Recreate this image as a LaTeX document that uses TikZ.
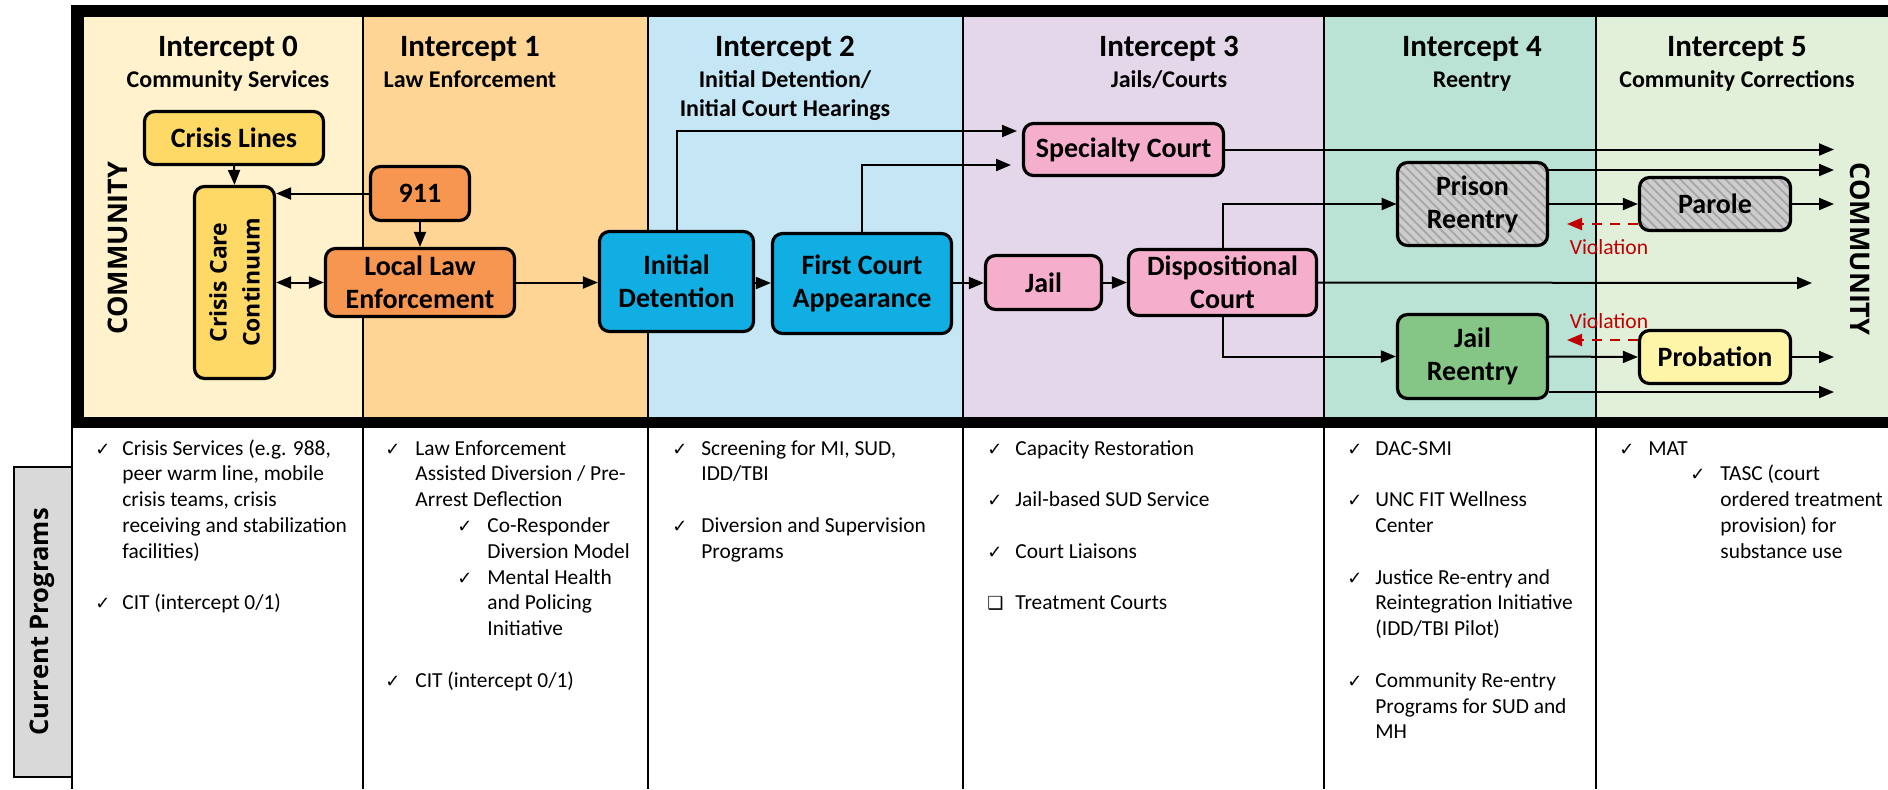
\documentclass[tikz,border=0pt]{standalone}
\usepackage{fontspec}
\setmainfont{Carlito}
\newfontfamily\osans{Open Sans}
\newfontfamily\djv{DejaVu Sans}
\usetikzlibrary{arrows.meta,patterns.meta}
\definecolor{c0}{HTML}{FFF2CC}
\definecolor{c1}{HTML}{FFD596}
\definecolor{c2}{HTML}{C5E6F5}
\definecolor{c3}{HTML}{E4D7EA}
\definecolor{c4}{HTML}{BAE2D5}
\definecolor{c5}{HTML}{E2F0DA}
\definecolor{gold}{HTML}{FFD966}
\definecolor{orng}{HTML}{F69651}
\definecolor{cyanb}{HTML}{10AEE2}
\definecolor{pinkb}{HTML}{F5AFCC}
\definecolor{greenb}{HTML}{85C686}
\definecolor{yelb}{HTML}{FFF5A8}
\definecolor{grayb}{HTML}{CDCDCD}
\definecolor{grayl}{HTML}{A6A6A6}
\definecolor{vred}{HTML}{C00000}
\definecolor{cpgray}{HTML}{D9D9D9}
\newcommand{\plines}[1]{\begin{tabular}[t]{@{}l@{}}#1\end{tabular}}
\tikzset{
  box/.style={draw, line width=1.6pt, rounded corners=5pt, inner sep=0pt, align=center,
    font=\bfseries\fontsize{14}{16.5}\selectfont},
  hatched/.style={preaction={fill=grayb}, pattern={Lines[angle=-45,distance=3.2pt,line width=0.9pt]}, pattern color=grayl},
  ttl/.style={anchor=base, inner sep=0pt, font=\bfseries\fontsize{15.5}{18}\selectfont},
  subttl/.style={anchor=base, inner sep=0pt, font=\bfseries\fontsize{12}{14.5}\selectfont},
  comm/.style={inner sep=0pt, font=\osans\bfseries\fontsize{13.5}{16}\selectfont},
  arr/.style={line width=1pt, -{Triangle[length=7.5pt,width=6pt]}},
  dblarr/.style={line width=1pt, {Triangle[length=7.5pt,width=6pt]}-{Triangle[length=7.5pt,width=6pt]}},
  viol/.style={line width=1pt, vred, dash pattern=on 5pt off 4pt, -{Triangle[length=7.5pt,width=6pt]}},
  violtxt/.style={anchor=base, inner sep=0pt, text=vred, font=\fontsize{10.8}{13}\selectfont},
  prog/.style={anchor=base west, inner sep=0pt, font=\fontsize{10.7}{12.9}\selectfont},
  chk/.style={anchor=base west, inner sep=0pt, font=\djv\fontsize{9}{10}\selectfont},
  divider/.style={line width=1pt, black},
}
\begin{document}
\begin{tikzpicture}[x=0.5pt,y=-0.5pt]
\useasboundingbox (0,0) rectangle (1888,789);
\fill[white] (0,0) rectangle (1888,789);
% column backgrounds
\fill[c0] (84,17) rectangle (363,417);
\fill[c1] (363,17) rectangle (648,417);
\fill[c2] (648,17) rectangle (963,417);
\fill[c3] (963,17) rectangle (1324,417);
\fill[c4] (1324,17) rectangle (1596,417);
\fill[c5] (1596,17) rectangle (1888,417);
% dividers
\foreach \xx in {363,648,963,1324,1596} \draw[divider] (\xx,17) -- (\xx,789);
\draw[divider] (71.5,428) -- (71.5,789);
% frame
\fill[black] (71,5) rectangle (1888,17);
\fill[black] (71,5) rectangle (84,428);
\fill[black] (71,417) rectangle (1888,428);
% current programs
\node[draw, line width=1pt, fill=cpgray, minimum width=155pt, minimum height=29pt, inner sep=0pt,
  rotate=90, font=\osans\bfseries\fontsize{12.8}{15}\selectfont] (cp) at (42.5,622) {Current Programs};
% headers
\node[ttl] (t0) at (228,56) {Intercept 0};
\node[subttl] (s0) at (228,87) {Community Services};
\node[ttl] (t1) at (470,56) {Intercept 1};
\node[subttl] (s1) at (470,87) {Law Enforcement};
\node[ttl] (t2) at (785,56) {Intercept 2};
\node[subttl] (s2a) at (785,87) {Initial Detention/};
\node[subttl] (s2b) at (785,116) {Initial Court Hearings};
\node[ttl] (t3) at (1169,56) {Intercept 3};
\node[subttl] (s3) at (1169,87) {Jails/Courts};
\node[ttl] (t4) at (1472,56) {Intercept 4};
\node[subttl] (s4) at (1472,87) {Reentry};
\node[ttl] (t5) at (1737,56) {Intercept 5};
\node[subttl] (s5) at (1737,87) {Community Corrections};
% community labels
\node[comm, rotate=90] (commL) at (118,248) {COMMUNITY};
\node[comm, rotate=-90] (commR) at (1860,249) {COMMUNITY};
% boxes
\node[box, fill=gold, minimum width=89.5pt, minimum height=26.5pt] (crisislines) at (234,138) {Crisis Lines};
\node[box, fill=gold, rotate=90, minimum width=96pt, minimum height=40pt,
  font=\osans\bfseries\fontsize{11.5}{16.5}\selectfont] (ccc) at (234.5,282.5) {Crisis Care\\Continuum};
\node[box, fill=orng, minimum width=49.5pt, minimum height=27pt] (n911) at (420,193.5) {911};
\node[box, fill=orng, minimum width=94.5pt, minimum height=34pt] (lle) at (420,282.5) {Local Law\\Enforcement};
\node[box, fill=cyanb, minimum width=77pt, minimum height=50pt] (initdet) at (676.5,281.5) {Initial\\Detention};
\node[box, fill=cyanb, minimum width=89.5pt, minimum height=50pt] (firstcourt) at (862,283.5) {First Court\\Appearance};
\node[box, fill=pinkb, minimum width=58pt, minimum height=27pt] (jail) at (1043.5,282.5) {Jail};
\node[box, fill=pinkb, minimum width=94pt, minimum height=33pt] (dispo) at (1222.5,282.5) {Dispositional\\Court};
\node[box, fill=pinkb, minimum width=100pt, minimum height=26pt] (specialty) at (1123.5,149.5) {Specialty Court};
\node[box, hatched, minimum width=75pt, minimum height=41.5pt] (prison) at (1472.5,204) {Prison\\Reentry};
\node[box, hatched, minimum width=75.5pt, minimum height=26.5pt] (parole) at (1715,204) {Parole};
\node[box, fill=greenb, minimum width=75pt, minimum height=42pt] (jailre) at (1472.5,356.5) {Jail\\Reentry};
\node[box, fill=yelb, minimum width=75.5pt, minimum height=26.5pt] (probation) at (1715,357) {Probation};
% coordinates
\coordinate (sc1) at (1017,131);
\coordinate (sc2) at (1011,165);
\coordinate (end1) at (1834,149.5);
\coordinate (end2) at (1834,170);
\coordinate (end3) at (1834,204);
\coordinate (end4) at (1812,283);
\coordinate (end5) at (1834,357);
\coordinate (end6) at (1834,392);
\coordinate (v1) at (1567,224);
\coordinate (v2) at (1567,340);
% connectors (ccc is rotated: its east anchor is on top, south anchor on the right)
\draw[arr] (crisislines.south) -- (ccc.east);
\draw[arr] (n911.west) -- (n911.west -| ccc.south);
\draw[arr] (n911.south) -- (lle.north);
\draw[dblarr] (ccc.south) -- (lle.west);
\draw[arr] (lle.east) -- (lle.east -| initdet.west);
\draw[arr] (initdet.east |- 0,283) -- (firstcourt.west |- 0,283);
\draw[arr] (firstcourt.east |- 0,283) -- (jail.west |- 0,283);
\draw[arr] (jail.east) -- (dispo.west);
\draw[arr] (initdet.north) |- (sc1);
\draw[arr] (firstcourt.north) |- (sc2);
\draw[arr] (specialty.east) -- (end1);
\draw[arr] (end2 -| prison.east) -- (end2);
\draw[arr] (dispo.north) |- (prison.west);
\draw[arr] (prison.east) -- (parole.west);
\draw[arr] (parole.east) -- (end3);
\draw[viol] (v1 -| parole.west) -- (v1);
\draw[arr] (dispo.east) -- (end4);
\draw[arr] (dispo.south) |- (jailre.west);
\draw[arr] (jailre.east) -- (probation.west);
\draw[arr] (probation.east) -- (end5);
\draw[arr] (end6 -| jailre.east) -- (end6);
\draw[viol] (v2 -| probation.west) -- (v2);
\node[violtxt] (vt1) at (1609,254) {Violation};
\node[violtxt] (vt2) at (1609,328) {Violation};
% programs
\node[chk] (k0a) at (95,455) {✓};
\node[prog] (p0a) at (122,455) {\plines{Crisis Services (e.g. 988,\\peer warm line, mobile\\crisis teams, crisis\\receiving and stabilization\\facilities)}};
\node[chk] (k0b) at (95,609.8) {✓};
\node[prog] (p0b) at (122,609.8) {CIT (intercept 0/1)};
\node[chk] (k1a) at (385,455) {✓};
\node[prog] (p1a) at (415,455) {\plines{Law Enforcement\\Assisted Diversion / Pre-\\Arrest Deflection}};
\node[chk] (k1b) at (457,532.4) {✓};
\node[prog] (p1b) at (487,532.4) {\plines{Co-Responder\\Diversion Model}};
\node[chk] (k1c) at (457,584) {✓};
\node[prog] (p1c) at (487,584) {\plines{Mental Health\\and Policing\\Initiative}};
\node[chk] (k1d) at (385,687.2) {✓};
\node[prog] (p1d) at (415,687.2) {CIT (intercept 0/1)};
\node[chk] (k2a) at (672,455) {✓};
\node[prog] (p2a) at (701,455) {\plines{Screening for MI, SUD,\\IDD/TBI}};
\node[chk] (k2b) at (672,532.4) {✓};
\node[prog] (p2b) at (701,532.4) {\plines{Diversion and Supervision\\Programs}};
\node[chk] (k3a) at (987,455) {✓};
\node[prog] (p3a) at (1015,455) {Capacity Restoration};
\node[chk] (k3b) at (987,506.6) {✓};
\node[prog] (p3b) at (1015,506.6) {Jail-based SUD Service};
\node[chk] (k3c) at (987,558.2) {✓};
\node[prog] (p3c) at (1015,558.2) {Court Liaisons};
\node[chk] (k3d) at (987,609.8) {❑};
\node[prog] (p3d) at (1015,609.8) {Treatment Courts};
\node[chk] (k4a) at (1347,455) {✓};
\node[prog] (p4a) at (1375,455) {DAC-SMI};
\node[chk] (k4b) at (1347,506.6) {✓};
\node[prog] (p4b) at (1375,506.6) {\plines{UNC FIT Wellness\\Center}};
\node[chk] (k4c) at (1347,584) {✓};
\node[prog] (p4c) at (1375,584) {\plines{Justice Re-entry and\\Reintegration Initiative\\(IDD/TBI Pilot)}};
\node[chk] (k4d) at (1347,687.2) {✓};
\node[prog] (p4d) at (1375,687.2) {\plines{Community Re-entry\\Programs for SUD and\\MH}};
\node[chk] (k5a) at (1619,455) {✓};
\node[prog] (p5a) at (1648,455) {MAT};
\node[chk] (k5b) at (1690,480.8) {✓};
\node[prog] (p5b) at (1720,480.8) {\plines{TASC (court\\ordered treatment\\provision) for\\substance use}};
\end{tikzpicture}
\end{document}
